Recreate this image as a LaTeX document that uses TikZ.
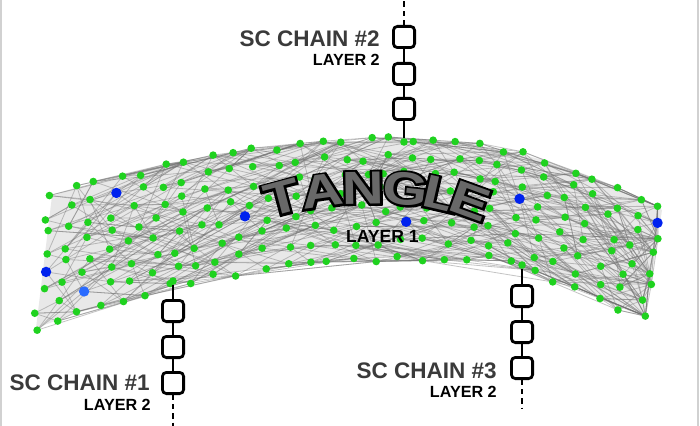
\documentclass[tikz,border=0pt]{standalone}
\usepackage{fontspec}
\setmainfont{Liberation Sans}
\usetikzlibrary{positioning}
\definecolor{dotgreen}{HTML}{1FD21F}
\definecolor{dotblue}{HTML}{0022EE}
\definecolor{dotsky}{HTML}{2A6BFF}
\definecolor{labelgray}{HTML}{3A3A3A}
\definecolor{tanglegray}{HTML}{686868}
\newcommand\outlined[1]{\scalebox{1.25}[1]{\rlap{\color{black}\special{pdf:code 2 Tr 3 w}#1\special{pdf:code 0 Tr}}#1}}

\begin{document}
\begin{tikzpicture}[x=0.25mm,y=-0.25mm,
  declare function={topy(\x)=140+(\x<405)*4.5*((\x-405)/100)^2+(\x>=405)*10.6*((\x-405)/100)^2;
    boty(\x)=258+(\x<400)*5.3*((\x-400)/100)^2+(\x>506)*0.43*(\x-506);},
  edge/.style={draw=black!55,opacity=0.42,line width=0.2mm},
  gdot/.style={circle,fill=dotgreen,inner sep=0pt,minimum size=1.9mm},
  bdot/.style={circle,fill=dotblue,inner sep=0pt,minimum size=2.6mm},
  chainbox/.style={draw,rounded corners=1mm,line width=0.7mm,fill=white,minimum size=5.3mm,inner sep=0pt},
  link/.style={line width=0.7mm},
  chainlbl/.style={text=labelgray,font=\fontsize{16}{18}\selectfont\bfseries,anchor=base east,inner sep=0pt},
  layerlbl/.style={font=\fontsize{11.5}{13}\selectfont\bfseries,anchor=base east,inner sep=0pt},
  letter/.style={text=tanglegray,font=\fontsize{33}{36}\selectfont\bfseries,inner sep=0pt}]
\useasboundingbox (0,0) rectangle (700,426);
\fill[white] (0,0) rectangle (700,426);
\draw[black!18,line width=0.5mm] (1,0) -- (1,426) (698,0) -- (698,426);
\fill[black!9] plot[domain=52:662,samples=50] (\x,{topy(\x)}) -- plot[domain=645:36,samples=50] (\x,{boty(\x)}) -- cycle;
\pgfmathsetseed{42}
\foreach \i in {0,...,27}{
  \foreach \j in {0,...,7}{
    \pgfmathsetmacro\vv{\j/7}
    \pgfmathsetmacro\xx{52-16*\vv+\i/27*(610-\vv)+(rnd-0.5)*10}
    \pgfmathsetmacro\yy{topy(\xx)+\vv*(boty(\xx)-topy(\xx))+(rnd-0.5)*8}
    \coordinate (p-\i-\j) at (\xx,\yy);
  }}
\foreach \i in {0,...,27}{
  \foreach \j in {0,...,7}{
    \foreach \k in {1,...,4}{
      \pgfmathtruncatemacro\ii{min(27,\i+random(1,6))}
      \pgfmathtruncatemacro\jj{max(0,min(7,\j+random(0,6)-3))}
      \draw[edge] (p-\i-\j) -- (p-\ii-\jj);
    }}}
\foreach \i in {0,...,27}{
  \foreach \j in {0,...,7}{
    \node[gdot] (d-\i-\j) at (p-\i-\j) {};
  }}
\node[bdot] (b1) at (p-3-1) {};
\node[bdot] (b2) at (p-9-4) {};
\node[bdot] (b3) at (p-16-5) {};
\node[bdot] (b4) at (p-21-3) {};
\node[bdot] (b5) at (p-27-1) {};
\node[bdot] (b6) at (p-0-4) {};
\node[bdot,fill=dotsky] (b7) at (p-2-6) {};
\node[letter,rotate=15] (tT) at (282,198) {\outlined{T}};
\node[letter,rotate=8] (tA) at (322,191) {\outlined{A}};
\node[letter,rotate=1] (tN) at (363,188) {\outlined{N}};
\node[letter,rotate=-6] (tG) at (406,189) {\outlined{G}};
\node[letter,rotate=-13] (tL) at (441,194) {\outlined{L}};
\node[letter,rotate=-20] (tE) at (470,201) {\outlined{E}};
\node[layerlbl,font=\fontsize{12.5}{14}\selectfont\bfseries] (lay1) at (419,243) {LAYER 1};
\node[gdot] (a1) at (173,281) {};
\node[gdot] (a2) at (404,142) {};
\node[gdot] (a3) at (522,265) {};
\node[chainbox] (c1a) at (173,311) {};
\node[chainbox] (c1b) at (173,347) {};
\node[chainbox] (c1c) at (173,383) {};
\coordinate (c1end) at (173,426);
\node[chainbox] (c2a) at (404,37) {};
\node[chainbox] (c2b) at (404,74) {};
\node[chainbox] (c2c) at (404,109) {};
\coordinate (c2end) at (404,0);
\node[chainbox] (c3a) at (522,296) {};
\node[chainbox] (c3b) at (522,332) {};
\node[chainbox] (c3c) at (522,368) {};
\coordinate (c3end) at (522,408);
\draw[link] (a1) -- (c1a) -- (c1b) -- (c1c);
\draw[link,dash pattern=on 1.3mm off 1mm] (c1c) -- (c1end);
\draw[link] (a2) -- (c2c) -- (c2b) -- (c2a);
\draw[link,dash pattern=on 1.3mm off 1mm] (c2a) -- (c2end);
\draw[link] (a3) -- (c3a) -- (c3b) -- (c3c);
\draw[link,dash pattern=on 1.3mm off 1mm] (c3c) -- (c3end);
\node[chainlbl] (sc1) at (150,390) {SC CHAIN \#1};
\node[layerlbl] (ly1) at (151,410) {LAYER 2};
\node[chainlbl] (sc2) at (380,47) {SC CHAIN \#2};
\node[layerlbl] (ly2) at (380,66) {LAYER 2};
\node[chainlbl] (sc3) at (497,378) {SC CHAIN \#3};
\node[layerlbl] (ly3) at (497,397) {LAYER 2};
\end{tikzpicture}
\end{document}
